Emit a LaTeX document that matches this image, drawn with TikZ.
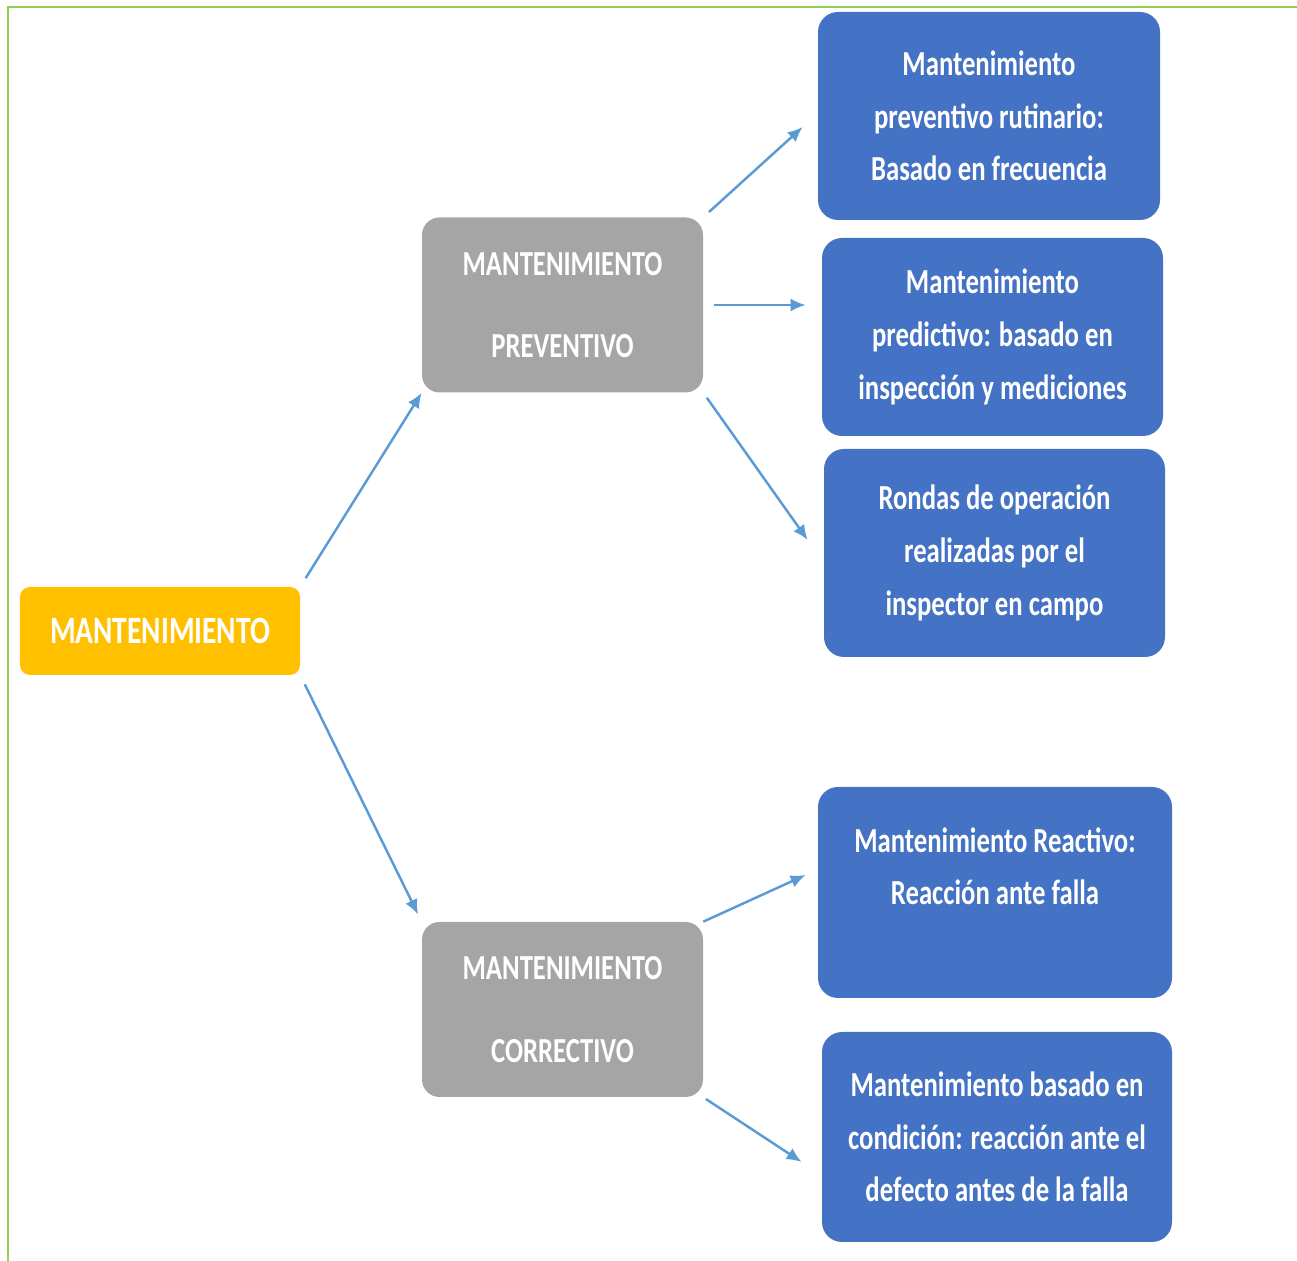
\documentclass[tikz,border=0pt]{standalone}
\usepackage{fontspec}
\setmainfont{Carlito}[FakeStretch=0.76]
\usepackage{tikz}
\usetikzlibrary{arrows.meta,calc}
\definecolor{mainyellow}{HTML}{FFC000}
\definecolor{catgray}{HTML}{A5A5A5}
\definecolor{itemblue}{HTML}{4472C4}
\definecolor{connblue}{HTML}{5B9BD5}
\definecolor{framegreen}{HTML}{92D050}
\tikzset{
  mainbox/.style={fill=mainyellow, rounded corners=0.2cm, minimum width=5.6cm,
    minimum height=1.76cm, text=white, font=\bfseries\fontsize{22}{26}\selectfont},
  catbox/.style={fill=catgray, rounded corners=0.35cm, minimum width=5.62cm,
    minimum height=3.5cm, text=white, align=center,
    font=\bfseries\fontsize{20}{47}\selectfont},
  itembox/.style={fill=itemblue, rounded corners=0.4cm, minimum height=4.16cm,
    text=white, align=center, font=\bfseries\fontsize{20}{30}\selectfont},
  conn/.style={-{Latex[length=0.3cm,width=0.26cm]}, draw=connblue, line width=1.4pt},
}

\begin{document}
\begin{tikzpicture}
\useasboundingbox (0,0) rectangle (25.94,25.22);
\draw[framegreen, line width=1.2pt] (0.16,0) |- (25.94,25.08);

\node[mainbox] (main) at (3.2,12.6) {MANTENIMIENTO};
\node[catbox] (prev) at (11.25,19.12) {MANTENIMIENTO\\PREVENTIVO};
\node[catbox] (corr) at (11.25,5.03) {MANTENIMIENTO\\CORRECTIVO};

\node[itembox, minimum width=6.84cm] (rout) at (19.78,22.9)
  {Mantenimiento\\preventivo rutinario:\\Basado en frecuencia};
\node[itembox, minimum width=6.82cm, minimum height=3.96cm] (pred) at (19.85,18.48)
  {Mantenimiento\\predictivo: basado en\\inspección y mediciones};
\node[itembox, minimum width=6.82cm] (rond) at (19.89,14.16)
  {Rondas de operación\\realizadas por el\\inspector en campo};
\node[itembox, minimum width=7.08cm, minimum height=4.22cm] (reac) at (19.9,7.37)
  {Mantenimiento Reactivo:\\Reacción ante falla\\\mbox{}};
\node[itembox, minimum width=7.0cm, minimum height=4.2cm] (cond) at (19.94,2.48)
  {Mantenimiento basado en\\condición: reacción ante el\\defecto antes de la falla};

\draw[conn, shorten <=0.2cm] (main.north east) -- (prev.south west);
\draw[conn, shorten <=0.2cm, shorten >=0.16cm] (main.south east) -- (corr.north west);
\draw[conn, shorten <=0.15cm] (prev.north east) -- ([xshift=-0.3cm,yshift=-0.22cm]rout.west);
\draw[conn, shorten <=0.22cm, shorten >=0.32cm] (prev.east) -- (prev.east -| pred.west);
\draw[conn, shorten <=0.12cm] (prev.south east) -- ([xshift=-0.32cm,yshift=0.26cm]rond.west);
\draw[conn] (corr.north east) -- ([xshift=-0.24cm,yshift=0.35cm]reac.west);
\draw[conn, shorten <=0.06cm] (corr.south east) -- ([xshift=-0.4cm,yshift=-0.5cm]cond.west);
\end{tikzpicture}
\end{document}
